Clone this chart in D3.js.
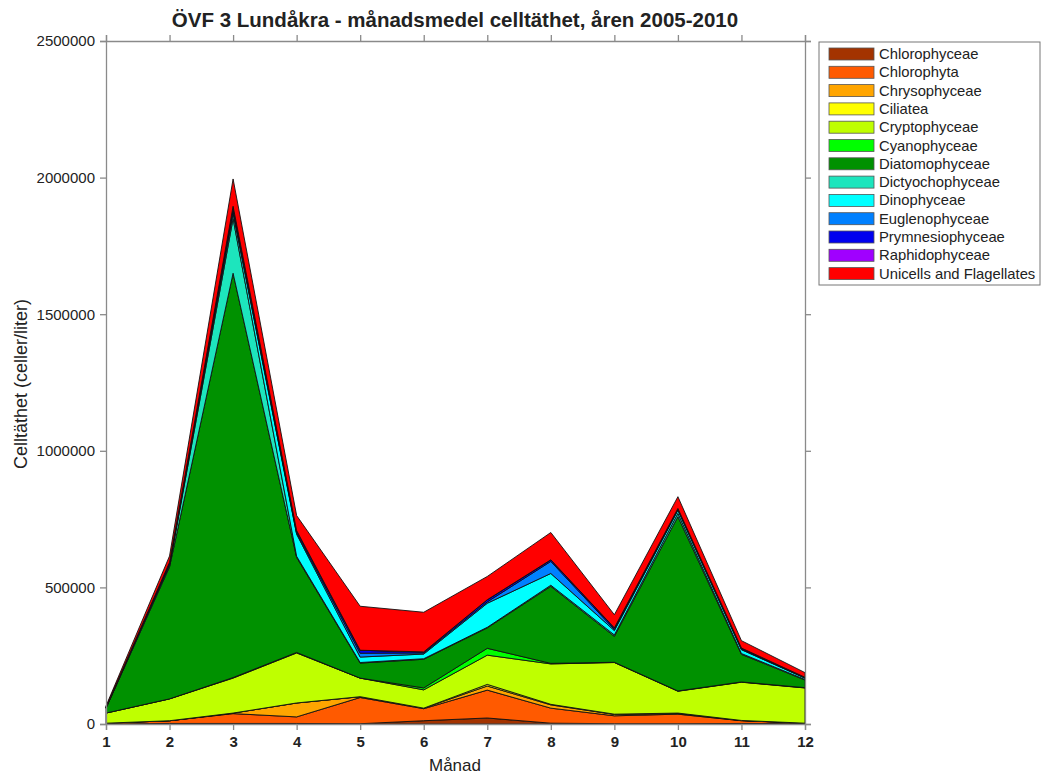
<!DOCTYPE html>
<html>
<head>
<meta charset="utf-8">
<script src="https://cdn.jsdelivr.net/npm/d3@7"></script>
<style>
    body { margin: 0; background: #fff; }
    svg text { font-family: "Liberation Sans", Arial, sans-serif; fill: #222; }
</style>
</head>
<body>
<svg id="chart" width="1041" height="776"></svg>
<script>
// Chart data: monthly mean cell density per class (cells/liter)
const months = [1, 2, 3, 4, 5, 6, 7, 8, 9, 10, 11, 12];
const yTicks = [0, 500000, 1000000, 1500000, 2000000, 2500000];

const classes = ["Chlorophyceae", "Chlorophyta", "Chrysophyceae", "Ciliatea", "Cryptophyceae",
    "Cyanophyceae", "Diatomophyceae", "Dictyochophyceae", "Dinophyceae", "Euglenophyceae",
    "Prymnesiophyceae", "Raphidophyceae", "Unicells and Flagellates"];
const colors = ["#a33300", "#ff5a00", "#ffa500", "#ffff00", "#bfff00",
    "#00ff00", "#009100", "#1de5bd", "#00ffff", "#0080ff",
    "#0000ee", "#a000ff", "#ff0000"];

const chlorophyceae    = [0, 2000, 2000, 2000, 1000, 12000, 22000, 3000, 1000, 1000, 2000, 1000];
const chlorophyta      = [3000, 10000, 36000, 24000, 96000, 44000, 102000, 55000, 29000, 35000, 10000, 2000];
const chrysophyceae    = [0, 0, 2000, 51000, 3000, 2000, 15000, 12000, 5000, 2000, 1000, 0];
const ciliatea         = [0, 0, 0, 0, 0, 0, 6000, 2000, 1000, 2000, 0, 0];
const cryptophyceae    = [37000, 80000, 128000, 183000, 68000, 67000, 107000, 148000, 189000, 80000, 140000, 129000];
const cyanophyceae     = [0, 0, 2000, 2000, 0, 7000, 25000, 2000, 1000, 1000, 1000, 1000];
const diatomophyceae   = [18000, 483000, 1480000, 348000, 55000, 105000, 75000, 282000, 95000, 638000, 101000, 28000];
const dictyochophyceae = [0, 5000, 200000, 4000, 2000, 2000, 2000, 4000, 5000, 12000, 3000, 2000];
const dinophyceae      = [2000, 5000, 20000, 81000, 20000, 17000, 88000, 43000, 16000, 12000, 14000, 5000];
const euglenophyceae   = [0, 2000, 8000, 5000, 14000, 4000, 5000, 44000, 4000, 2000, 2000, 1000];
const prymnesiophyceae = [1000, 5000, 17000, 8000, 11000, 4000, 8000, 6000, 6000, 4000, 4000, 2000];
const raphidophyceae   = [0, 0, 0, 0, 0, 0, 0, 0, 0, 0, 0, 0];
const unicells         = [5000, 23000, 100000, 55000, 161000, 145000, 85000, 100000, 48000, 43000, 27000, 17000];

const series = [chlorophyceae, chlorophyta, chrysophyceae, ciliatea, cryptophyceae, cyanophyceae,
    diatomophyceae, dictyochophyceae, dinophyceae, euglenophyceae, prymnesiophyceae,
    raphidophyceae, unicells];

// build table rows for d3.stack
const rows = months.map((m, i) => {
    const row = { month: m };
    classes.forEach((c, j) => { row[c] = series[j][i]; });
    return row;
});

const svg = d3.select("#chart");
const plot = { left: 106, right: 805, top: 41, bottom: 724 };
const axisColor = "#8a8a8a";

const x = d3.scaleLinear().domain([1, 12]).range([plot.left, plot.right]);
const y = d3.scaleLinear().domain([0, 2500000]).range([plot.bottom, plot.top]);

const stacked = d3.stack().keys(classes)(rows);

const area = d3.area()
    .x(d => x(d.data.month))
    .y0(d => y(d[0]))
    .y1(d => y(d[1]));

svg.append("g")
    .selectAll("path")
    .data(stacked)
    .join("path")
    .attr("d", area)
    .attr("fill", (d, i) => colors[i])
    .attr("stroke", "#111")
    .attr("stroke-width", 0.9)
    .attr("stroke-linejoin", "round");

// axes on all four sides, ticks pointing outward
function styleAxis(g) {
    g.selectAll(".domain").attr("stroke", axisColor).attr("stroke-width", 1.3);
    g.selectAll(".tick line").attr("stroke", axisColor).attr("stroke-width", 1.3);
    g.selectAll(".tick text").attr("font-size", 15).attr("fill", "#262626")
        .style("font-family", "'Liberation Sans', Arial, sans-serif");
}

svg.append("g")
    .attr("transform", `translate(0,${plot.bottom})`)
    .call(d3.axisBottom(x).tickValues(months).tickFormat(d3.format("d")).tickSizeOuter(0).tickSize(6).tickPadding(6))
    .call(styleAxis)
    .call(g => g.selectAll(".tick text").attr("font-weight", "bold").attr("fill", "#333"));

svg.append("g")
    .attr("transform", `translate(0,${plot.top})`)
    .call(d3.axisTop(x).tickValues(months).tickFormat("").tickSizeOuter(0).tickSize(6))
    .call(styleAxis);

svg.append("g")
    .attr("transform", `translate(${plot.left},0)`)
    .call(d3.axisLeft(y).tickValues(yTicks).tickFormat(d3.format("d")).tickSizeOuter(0).tickSize(6).tickPadding(5))
    .call(styleAxis);

svg.append("g")
    .attr("transform", `translate(${plot.right},0)`)
    .call(d3.axisRight(y).tickValues(yTicks).tickFormat("").tickSizeOuter(0).tickSize(6))
    .call(styleAxis);

// title and axis labels
svg.append("text")
    .attr("x", 455)
    .attr("y", 27)
    .attr("text-anchor", "middle")
    .attr("font-size", 20.5)
    .attr("font-weight", "bold")
    .text("ÖVF 3 Lundåkra - månadsmedel celltäthet, åren 2005-2010");

svg.append("text")
    .attr("x", 455)
    .attr("y", 771)
    .attr("text-anchor", "middle")
    .attr("font-size", 17)
    .text("Månad");

svg.append("text")
    .attr("transform", "rotate(-90)")
    .attr("x", -384)
    .attr("y", 27)
    .attr("text-anchor", "middle")
    .attr("font-size", 18)
    .text("Celltäthet (celler/liter)");

// legend
const legend = svg.append("g").attr("transform", "translate(819,42)");
legend.append("rect")
    .attr("width", 221)
    .attr("height", 243)
    .attr("fill", "#fff")
    .attr("stroke", "#777")
    .attr("stroke-width", 1);

const items = legend.selectAll(".item")
    .data(classes)
    .join("g")
    .attr("class", "item")
    .attr("transform", (d, i) => `translate(10,${6 + i * 18.3})`);

items.append("rect")
    .attr("width", 45)
    .attr("height", 12)
    .attr("fill", (d, i) => colors[i])
    .attr("stroke", "#555")
    .attr("stroke-width", 0.8);

items.append("text")
    .attr("x", 50)
    .attr("y", 11)
    .attr("font-size", 14.8)
    .text(d => d);
</script>
</body>
</html>
